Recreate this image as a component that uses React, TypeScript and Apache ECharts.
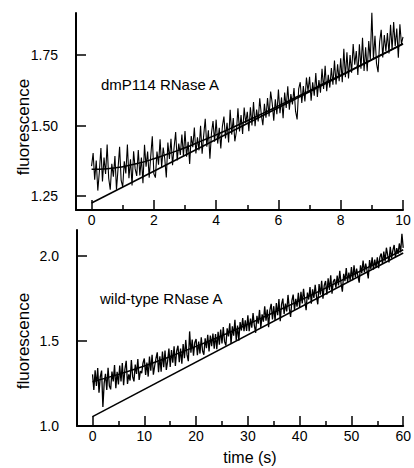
import React, { useEffect, useRef } from "react";
import * as echarts from "echarts";

// ---------- data ----------
const TOP_DT = 0.05; // s between samples, top trace (0..10 s)
const topTrace = [
  1.356, 1.402, 1.308, 1.376, 1.269, 1.336, 1.420, 1.301, 1.386, 1.328,
  1.433, 1.313, 1.272, 1.364, 1.318, 1.392, 1.272, 1.347, 1.425, 1.305,
  1.282, 1.373, 1.330, 1.433, 1.313, 1.380, 1.287, 1.409, 1.346, 1.321,
  1.413, 1.323, 1.386, 1.295, 1.432, 1.354, 1.408, 1.315, 1.391, 1.462,
  1.329, 1.315, 1.408, 1.361, 1.451, 1.352, 1.422, 1.382, 1.316, 1.440,
  1.381, 1.453, 1.359, 1.423, 1.477, 1.376, 1.436, 1.396, 1.468, 1.391,
  1.481, 1.389, 1.442, 1.364, 1.463, 1.423, 1.493, 1.401, 1.458, 1.412,
  1.499, 1.400, 1.465, 1.524, 1.425, 1.483, 1.382, 1.473, 1.516, 1.443,
  1.521, 1.436, 1.492, 1.419, 1.497, 1.532, 1.454, 1.510, 1.440, 1.556,
  1.468, 1.527, 1.444, 1.478, 1.561, 1.479, 1.537, 1.470, 1.564, 1.508,
  1.549, 1.480, 1.565, 1.500, 1.584, 1.498, 1.557, 1.515, 1.597, 1.539,
  1.501, 1.577, 1.528, 1.598, 1.532, 1.621, 1.580, 1.517, 1.593, 1.540,
  1.628, 1.544, 1.600, 1.526, 1.617, 1.563, 1.640, 1.556, 1.612, 1.575,
  1.633, 1.551, 1.522, 1.630, 1.654, 1.580, 1.640, 1.586, 1.671, 1.622,
  1.673, 1.588, 1.654, 1.606, 1.687, 1.602, 1.662, 1.617, 1.702, 1.630,
  1.712, 1.622, 1.680, 1.635, 1.704, 1.645, 1.731, 1.646, 1.718, 1.658,
  1.739, 1.654, 1.773, 1.672, 1.760, 1.667, 1.751, 1.688, 1.790, 1.716,
  1.765, 1.680, 1.789, 1.702, 1.812, 1.694, 1.778, 1.693, 1.800, 1.735,
  1.902, 1.736, 1.819, 1.720, 1.690, 1.798, 1.840, 1.742, 1.822, 1.764,
  1.829, 1.756, 1.858, 1.770, 1.868, 1.782, 1.845, 1.741, 1.860, 1.790,
  1.815,
];
const topFitTime = [0, 0.5, 1, 1.5, 2, 2.5, 3, 3.5, 4, 4.5, 5, 5.5, 6, 6.5, 7, 7.5, 8, 8.5, 9, 9.5, 10];
const topFit = [
  1.345, 1.347, 1.354, 1.366, 1.382, 1.401, 1.421, 1.444, 1.467, 1.492, 1.517,
  1.543, 1.570, 1.597, 1.624, 1.652, 1.679, 1.707, 1.735, 1.763, 1.791,
];
const topLineTime = [0, 10];
const topLine = [1.225, 1.79];

const BOT_DT = 0.25; // s between samples, bottom trace (0..60 s)
const bottomTrace = [
  1.303, 1.211, 1.327, 1.235, 1.340, 1.195, 1.290, 1.325, 1.112, 1.252, 1.306, 1.212, 1.342, 1.235, 1.215, 1.319, 1.262, 1.357, 1.222, 1.318,
  1.244, 1.354, 1.262, 1.370, 1.240, 1.333, 1.383, 1.247, 1.303, 1.267, 1.387, 1.288, 1.262, 1.360, 1.305, 1.393, 1.270, 1.322, 1.310, 1.370,
  1.396, 1.299, 1.372, 1.290, 1.407, 1.324, 1.418, 1.301, 1.352, 1.396, 1.432, 1.315, 1.409, 1.318, 1.437, 1.345, 1.443, 1.329, 1.381, 1.455,
  1.347, 1.445, 1.371, 1.467, 1.352, 1.440, 1.471, 1.375, 1.455, 1.365, 1.481, 1.398, 1.505, 1.417, 1.380, 1.555, 1.430, 1.507, 1.412, 1.490,
  1.510, 1.415, 1.495, 1.425, 1.520, 1.440, 1.418, 1.514, 1.457, 1.535, 1.438, 1.530, 1.469, 1.542, 1.453, 1.540, 1.450, 1.552, 1.477, 1.566,
  1.484, 1.581, 1.495, 1.472, 1.573, 1.526, 1.603, 1.482, 1.585, 1.530, 1.623, 1.502, 1.590, 1.500, 1.610, 1.560, 1.634, 1.557, 1.620, 1.558,
  1.650, 1.556, 1.630, 1.577, 1.663, 1.590, 1.547, 1.647, 1.600, 1.681, 1.576, 1.655, 1.612, 1.703, 1.618, 1.683, 1.580, 1.680, 1.717, 1.625,
  1.703, 1.618, 1.722, 1.650, 1.745, 1.615, 1.713, 1.748, 1.657, 1.718, 1.672, 1.769, 1.690, 1.640, 1.735, 1.771, 1.681, 1.746, 1.700, 1.782,
  1.695, 1.788, 1.719, 1.805, 1.735, 1.680, 1.783, 1.742, 1.815, 1.717, 1.802, 1.751, 1.829, 1.760, 1.714, 1.833, 1.770, 1.852, 1.747, 1.825,
  1.851, 1.771, 1.867, 1.798, 1.884, 1.776, 1.848, 1.862, 1.812, 1.883, 1.825, 1.910, 1.836, 1.788, 1.893, 1.850, 1.926, 1.845, 1.900, 1.855,
  1.932, 1.856, 1.943, 1.873, 1.923, 1.880, 1.841, 1.943, 1.896, 1.971, 1.901, 1.953, 1.915, 1.866, 1.973, 1.922, 1.990, 1.917, 1.977, 1.930,
  1.990, 1.926, 1.992, 2.012, 1.951, 2.024, 1.966, 2.046, 2.002, 1.960, 2.052, 1.983, 2.030, 2.062, 1.990, 2.044, 2.010, 2.071, 2.018, 2.128,
  2.045,
];
const bottomFitTime = [0, 5, 10, 15, 20, 25, 30, 35, 40, 45, 50, 55, 60];
const bottomFit = [1.26, 1.303, 1.352, 1.408, 1.467, 1.53, 1.597, 1.666, 1.736, 1.809, 1.883, 1.958, 2.034];
const bottomLineTime = [0, 60];
const bottomLine = [1.055, 2.015];

const topXMajor = [0, 2, 4, 6, 8, 10];
const topXMinor = [1, 3, 5, 7, 9];
const topYTicks = [1.25, 1.5, 1.75];
const botXMajor = [0, 10, 20, 30, 40, 50, 60];
const botXMinor = [5, 15, 25, 35, 45, 55];
const botYTicks = [1.0, 1.5, 2.0];

const FONT = '"Liberation Sans", Arial, sans-serif';

function pairs(t: number[], v: number[]) {
  return v.map((y, i) => [t[i], y]);
}
function sampled(dt: number, v: number[]) {
  return v.map((y, i) => [i * dt, y]);
}

function majorX(grid: number, min: number, max: number, ticks: number[]) {
  return {
    type: "value", gridIndex: grid, min, max, position: "bottom",
    axisLine: { show: true, onZero: false, lineStyle: { color: "#000", width: 2 } },
    axisTick: { show: true, inside: true, length: 10, customValues: ticks, lineStyle: { color: "#000", width: 1.5 } },
    axisLabel: { show: true, customValues: ticks, margin: 3, fontSize: 14, color: "#000", fontFamily: FONT },
    splitLine: { show: false },
  };
}
function minorX(grid: number, min: number, max: number, ticks: number[]) {
  return {
    type: "value", gridIndex: grid, min, max, position: "bottom",
    axisLine: { show: false, onZero: false },
    axisTick: { show: true, inside: true, length: 5, customValues: ticks, lineStyle: { color: "#000", width: 1.5 } },
    axisLabel: { show: false },
    splitLine: { show: false },
  };
}
function yAx(grid: number, min: number, max: number, ticks: number[], dec: number) {
  return {
    type: "value", gridIndex: grid, min, max,
    axisLine: { show: true, onZero: false, lineStyle: { color: "#000", width: 2 } },
    axisTick: { show: true, inside: true, length: 10, customValues: ticks, lineStyle: { color: "#000", width: 1.5 } },
    axisLabel: {
      show: true, customValues: ticks, margin: 18, fontSize: 14, color: "#000", fontFamily: FONT,
      formatter: (v: number) => v.toFixed(dec),
    },
    splitLine: { show: false },
  };
}

export default function App() {
  const ref = useRef<HTMLDivElement>(null);
  useEffect(() => {
    if (!ref.current) return;
    const chart = echarts.init(ref.current, undefined, { renderer: "svg" });
    const topTraceStyle = { color: "#000", width: 1.1 };
    const botTraceStyle = { color: "#000", width: 1.3 };
    const fitStyle = { color: "#000", width: 1.5 };
    chart.setOption({
      animation: false,
      backgroundColor: "#fff",
      grid: [
        { left: 76, top: 13, width: 327, height: 197 },
        { left: 77, top: 230, width: 327, height: 196 },
      ],
      xAxis: [
        majorX(0, -0.5, 10, topXMajor),
        minorX(0, -0.5, 10, topXMinor),
        majorX(1, -3, 60, botXMajor),
        minorX(1, -3, 60, botXMinor),
      ],
      yAxis: [yAx(0, 1.2, 1.9, topYTicks, 2), yAx(1, 1.0, 2.15, botYTicks, 1)],
      series: [
        { type: "line", xAxisIndex: 0, yAxisIndex: 0, data: sampled(TOP_DT, topTrace), showSymbol: false, symbol: "none", lineStyle: topTraceStyle },
        { type: "line", xAxisIndex: 0, yAxisIndex: 0, data: pairs(topFitTime, topFit), smooth: true, symbol: "none", lineStyle: fitStyle },
        { type: "line", xAxisIndex: 0, yAxisIndex: 0, data: pairs(topLineTime, topLine), symbol: "none", lineStyle: fitStyle },
        { type: "line", xAxisIndex: 2, yAxisIndex: 1, data: sampled(BOT_DT, bottomTrace), showSymbol: false, symbol: "none", lineStyle: botTraceStyle },
        { type: "line", xAxisIndex: 2, yAxisIndex: 1, data: pairs(bottomFitTime, bottomFit), smooth: true, symbol: "none", lineStyle: fitStyle },
        { type: "line", xAxisIndex: 2, yAxisIndex: 1, data: pairs(bottomLineTime, bottomLine), symbol: "none", lineStyle: fitStyle },
      ],
      graphic: [
        { type: "text", x: 23, y: 127, rotation: Math.PI / 2, style: { text: "fluorescence", font: `17px ${FONT}`, fill: "#000", align: "center", verticalAlign: "middle" } },
        { type: "text", x: 23.5, y: 341, rotation: Math.PI / 2, style: { text: "fluorescence", font: `17px ${FONT}`, fill: "#000", align: "center", verticalAlign: "middle" } },
        { type: "text", x: 250, y: 457, style: { text: "time (s)", font: `16px ${FONT}`, fill: "#000", align: "center", verticalAlign: "middle" } },
        { type: "text", x: 101, y: 84, style: { text: "dmP114 RNase A", font: `15px ${FONT}`, fill: "#000", align: "left", verticalAlign: "middle" } },
        { type: "text", x: 100, y: 298, style: { text: "wild-type RNase A", font: `15px ${FONT}`, fill: "#000", align: "left", verticalAlign: "middle" } },
      ],
    });
    return () => chart.dispose();
  }, []);
  return (
    <div
      ref={ref}
      style={{ position: "fixed", left: 0, top: 0, width: 414, height: 468, background: "#fff" }}
    />
  );
}
